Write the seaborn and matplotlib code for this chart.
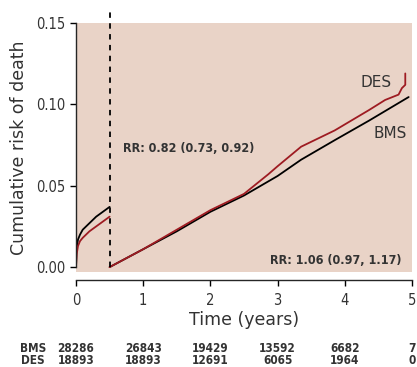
import pandas as pd
import matplotlib
matplotlib.use("Agg")
import matplotlib.pyplot as plt
import seaborn as sns

# ------------------------------------------------------------------
# Data
# ------------------------------------------------------------------
bms_early_t = [0, 0.01, 0.03, 0.06, 0.1, 0.2, 0.3, 0.4, 0.5]
bms_early_y = [0, 0.012, 0.017, 0.020, 0.023, 0.027, 0.031, 0.034, 0.037]
des_early_t = [0, 0.01, 0.03, 0.06, 0.1, 0.2, 0.3, 0.4, 0.5]
des_early_y = [0, 0.008, 0.013, 0.016, 0.018, 0.022, 0.025, 0.028, 0.031]

bms_late_t = [0.5, 1.0, 1.5, 2.0, 2.5, 2.75, 3.0, 3.35, 3.85, 4.36, 4.95]
bms_late_y = [0, 0.011, 0.022, 0.034, 0.044, 0.050, 0.056, 0.066, 0.078, 0.090, 0.1045]
des_late_t = [0.5, 1.0, 1.5, 2.0, 2.5, 2.86, 3.0, 3.35, 3.85, 4.36, 4.6, 4.8, 4.85, 4.9, 4.9]
des_late_y = [0, 0.011, 0.023, 0.035, 0.045, 0.057, 0.062, 0.074, 0.084, 0.0965,
              0.1027, 0.106, 0.110, 0.112, 0.119]

x_ticks = [0, 1, 2, 3, 4, 5]
y_ticks = [0.00, 0.05, 0.10, 0.15]
at_risk_bms = ["28286", "26843", "19429", "13592", "6682", "7"]
at_risk_des = ["18893", "18893", "12691", "6065", "1964", "0"]

landmark = 0.5
rr_early = "RR: 0.82 (0.73, 0.92)"
rr_late = "RR: 1.06 (0.97, 1.17)"

# ------------------------------------------------------------------
# Style
# ------------------------------------------------------------------
sns.set_style("ticks")
plt.rcParams["font.family"] = ["DejaVu Sans"]
plt.rcParams["font.stretch"] = "condensed"

BG = "#e9d3c7"
RED = "#9e1b22"
TXT = "#333333"

rows = []
for grp, seg, ts, ys in [("BMS", "early", bms_early_t, bms_early_y),
                         ("BMS", "late", bms_late_t, bms_late_y),
                         ("DES", "early", des_early_t, des_early_y),
                         ("DES", "late", des_late_t, des_late_y)]:
    for t, y in zip(ts, ys):
        rows.append({"time": t, "risk": y, "group": grp, "segment": seg})
df = pd.DataFrame(rows)

fig = plt.figure(figsize=(4.17, 3.67), dpi=100)
ax = fig.add_axes([76 / 417, 1 - 272 / 367, 336 / 417, 249 / 367])
ax.set_facecolor(BG)

sns.lineplot(data=df, x="time", y="risk", hue="group", units="segment",
             estimator=None, sort=False, palette={"BMS": "black", "DES": RED},
             linewidth=1.3, legend=False, ax=ax)

ax.plot([landmark, landmark], [0, 0.157], color="black", linestyle=(0, (3, 3)),
        linewidth=1.3, clip_on=False)

ax.set_xlim(0, 5)
ax.set_ylim(-0.003, 0.15)
ax.set_xticks(x_ticks)
ax.set_yticks(y_ticks)
ax.set_yticklabels([f"{v:.2f}" for v in y_ticks])
ax.tick_params(axis="both", labelsize=10.5, colors="black", labelcolor=TXT,
               length=4, width=1)
ax.tick_params(axis="x", pad=5)

for s in ["top", "right"]:
    ax.spines[s].set_visible(False)
ax.spines["left"].set_bounds(0, 0.15)
ax.spines["bottom"].set_position(("outward", 6))
ax.spines["bottom"].set_bounds(0, 5)
ax.spines["left"].set_linewidth(1)
ax.spines["bottom"].set_linewidth(1)

ax.set_xlabel("Time (years)", fontsize=12.5, color=TXT, fontstretch="normal")
ax.set_ylabel("Cumulative risk of death", fontsize=12.5, color=TXT,
              fontstretch="normal", labelpad=6)
ax.xaxis.set_label_coords(0.5, -0.155)

ax.text(0.7, 0.073, rr_early, fontsize=9, fontweight="bold", color=TXT,
        va="center", ha="left")
ax.text(4.85, 0.004, rr_late, fontsize=9, fontweight="bold", color=TXT,
        va="center", ha="right")
ax.text(4.7, 0.1135, "DES", fontsize=11, color=TXT, va="center", ha="right",
        fontstretch="normal")
ax.text(4.93, 0.082, "BMS", fontsize=11, color=TXT, va="center", ha="right",
        fontstretch="normal")

# at-risk table below the axis
for lbl, vals, yy in [("BMS", at_risk_bms, 349), ("DES", at_risk_des, 361)]:
    yf = 1 - yy / 367
    fig.text(33 / 417, yf, lbl, fontsize=8.5, fontweight="bold", color=TXT,
             ha="center", va="center")
    for t, v in zip(x_ticks, vals):
        xd = ax.transData.transform((t, 0))[0]
        xf = fig.transFigure.inverted().transform((xd, 0))[0]
        fig.text(xf, yf, v, fontsize=8.5, fontweight="bold", color=TXT,
                 ha="center", va="center")

fig.savefig("out.png", dpi=100)
